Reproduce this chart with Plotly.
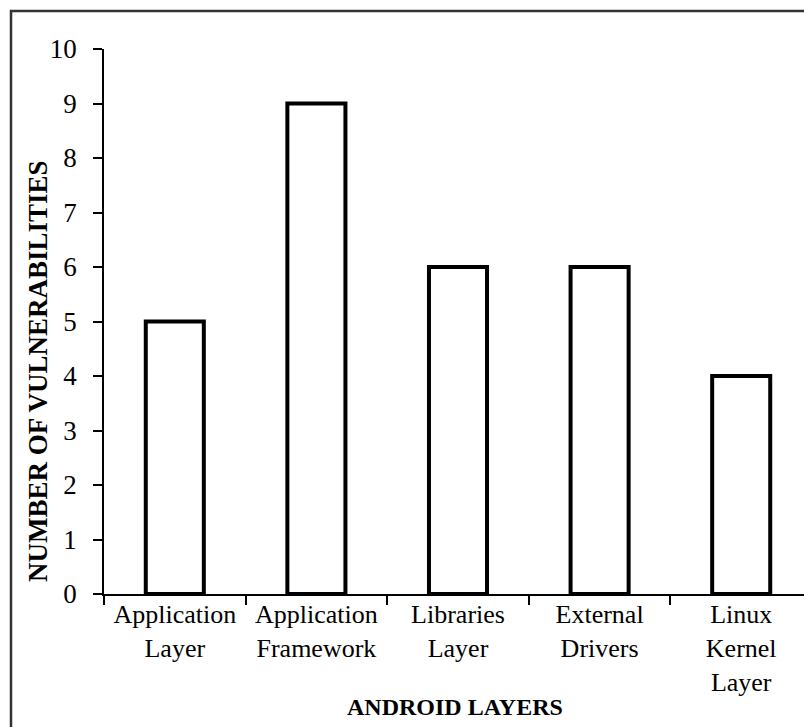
import plotly.graph_objects as go

categories = ["Application<br>Layer", "Application<br>Framework", "Libraries<br>Layer",
              "External<br>Drivers", "Linux<br>Kernel<br>Layer"]
values = [5, 9, 6, 6, 4]
y_ticks = list(range(0, 11))

FONT = "Liberation Serif, Times New Roman, serif"

fig = go.Figure(go.Bar(
    x=categories, y=values,
    marker=dict(color="white", line=dict(color="black", width=4)),
))

# page body has an 8px margin, so the figure is shifted up/left by 8px
fig.update_layout(
    width=812, height=727,
    margin=dict(l=96, r=8, t=41, b=141),
    paper_bgcolor="white", plot_bgcolor="white",
    bargap=0.59,
    showlegend=False,
    font=dict(family=FONT, size=27, color="black"),
    xaxis=dict(
        type="category",
        showline=True, linecolor="black", linewidth=1.5,
        ticks="outside", tickson="boundaries", ticklen=9, tickwidth=1.5, tickcolor="black",
        showgrid=False, zeroline=False,
        ticklabelstandoff=-4,
        tickfont=dict(family=FONT, size=26, color="black"),
    ),
    yaxis=dict(
        range=[0, 10], tickvals=y_ticks,
        showline=True, linecolor="black", linewidth=1.5,
        ticks="outside", ticklen=9, tickwidth=1.5, tickcolor="black",
        showgrid=False, zeroline=False,
        ticklabelstandoff=11,
        tickfont=dict(family=FONT, size=27, color="black"),
    ),
    annotations=[
        dict(text="<b>NUMBER OF VULNERABILITIES</b>", xref="paper", yref="paper",
             x=(38 - 104) / 708, y=(594 - 371) / 545, xanchor="center", yanchor="middle",
             textangle=-90, showarrow=False, font=dict(family=FONT, size=27, color="black")),
        dict(text="<b>ANDROID LAYERS</b>", xref="paper", yref="paper",
             x=(455 - 104) / 708, y=(594 - 707) / 545, xanchor="center", yanchor="middle",
             showarrow=False, font=dict(family=FONT, size=24, color="black")),
    ],
    shapes=[
        dict(type="rect", xref="paper", yref="paper",
             x0=(11 - 104) / 708, x1=1.2, y0=-0.5, y1=(594 - 11) / 545,
             line=dict(color="#333333", width=2.5), fillcolor="rgba(0,0,0,0)", layer="below"),
    ],
)

fig.write_html("out.html")
